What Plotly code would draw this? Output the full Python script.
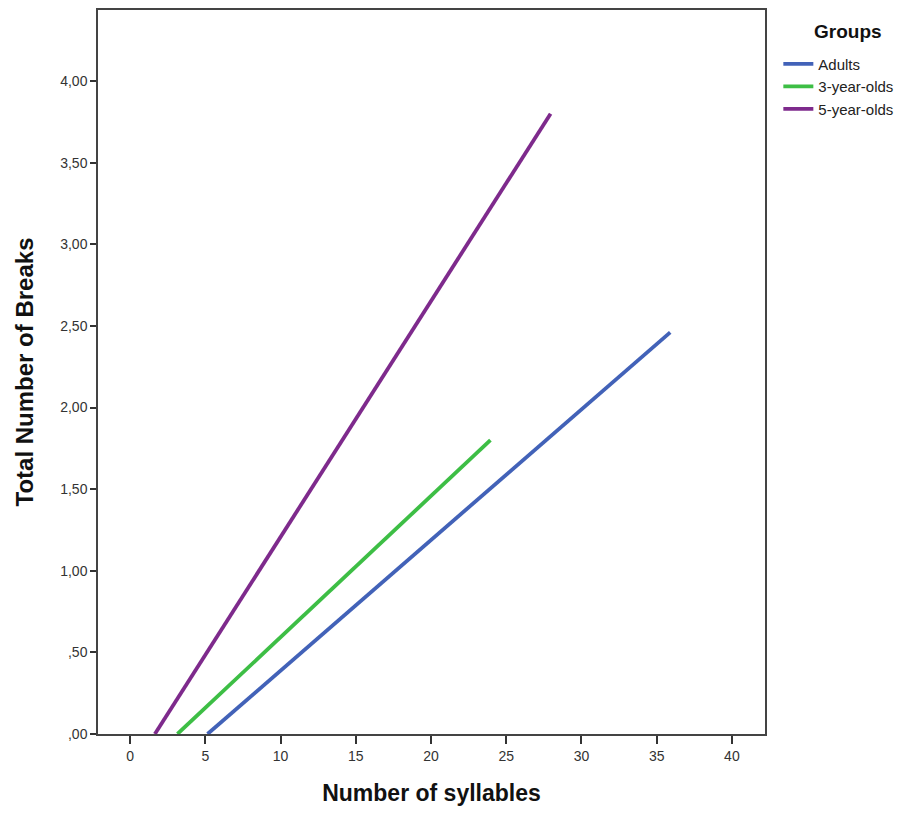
import plotly.graph_objects as go

groups = ["Adults", "3-year-olds", "5-year-olds"]
colors = ["#4262B8", "#3DBE45", "#7E2A8C"]
syllables = {
    "Adults": [5.15, 35.9],
    "3-year-olds": [3.15, 23.95],
    "5-year-olds": [1.65, 27.95],
}
breaks = {
    "Adults": [0.0, 2.46],
    "3-year-olds": [0.0, 1.80],
    "5-year-olds": [0.0, 3.80],
}
x_ticks = [0, 5, 10, 15, 20, 25, 30, 35, 40]
y_ticks = [0, 0.5, 1.0, 1.5, 2.0, 2.5, 3.0, 3.5, 4.0]
y_tick_labels = [",00", ",50", "1,00", "1,50", "2,00", "2,50", "3,00", "3,50", "4,00"]

fig = go.Figure()
for g, c in zip(groups, colors):
    fig.add_trace(go.Scatter(
        x=syllables[g], y=breaks[g], mode="lines", name=g,
        line=dict(color=c, width=3.8),
    ))

title_font = "Liberation Sans Narrow, Liberation Sans, Arial"

fig.update_layout(
    width=901, height=798,
    paper_bgcolor="white", plot_bgcolor="white",
    margin=dict(l=90, r=144, t=2, b=72),
    font=dict(family="Liberation Sans, Arial, sans-serif", size=14, color="#222"),
    showlegend=True,
    legend=dict(
        x=1.02, xanchor="left", y=0.948, yanchor="top",
        font=dict(size=15, color="#222"), tracegroupgap=0, itemwidth=30,
        bgcolor="rgba(0,0,0,0)",
    ),
    annotations=[dict(
        text="<b>Groups</b>", xref="paper", yref="paper",
        x=1.124, y=(726 - 24) / 724, xanchor="center", yanchor="middle",
        showarrow=False, font=dict(size=19, family=title_font, color="#111"),
    )],
    xaxis=dict(
        range=[-2.13, 42.2], tickvals=x_ticks, ticktext=[str(v) for v in x_ticks],
        showgrid=False, zeroline=False, showline=True, mirror=True,
        linecolor="#444", linewidth=1.5, automargin=False,
        ticks="outside", ticklen=8, tickcolor="#333", tickwidth=1.5,
        tickfont=dict(size=14, color="#333"),
        title=dict(text="<b>Number of syllables</b>",
                   font=dict(size=23, family=title_font, color="#111"),
                   standoff=27),
    ),
    yaxis=dict(
        range=[0, 4.435], tickvals=y_ticks, ticktext=y_tick_labels,
        showgrid=False, zeroline=False, showline=True, mirror=True,
        linecolor="#444", linewidth=1.5,
        ticks="outside", ticklen=6, tickcolor="#333", tickwidth=1.5,
        tickfont=dict(size=14, color="#333"),
        title=dict(text="<b>Total Number of Breaks</b>",
                   font=dict(size=24, family=title_font, color="#111"),
                   standoff=20),
    ),
)

fig.write_html("out.html")
